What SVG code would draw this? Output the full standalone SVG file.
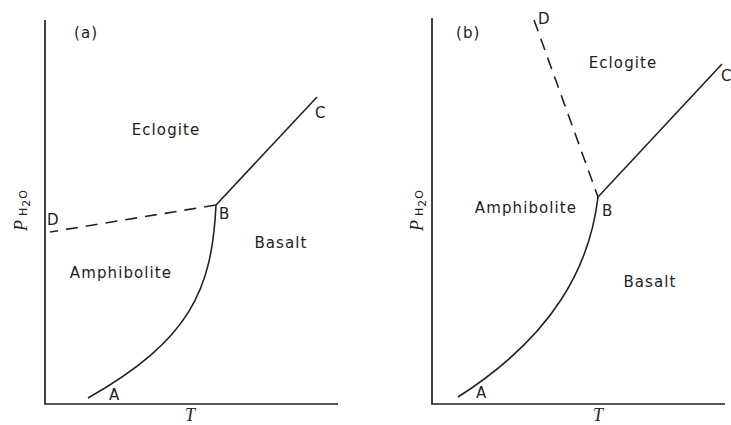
<svg xmlns="http://www.w3.org/2000/svg" width="731" height="425" viewBox="0 0 731 425">
<style>
.ax{stroke:#222;stroke-width:1.7;fill:none}
.ln{stroke:#222;stroke-width:1.6;fill:none}
.ds{stroke:#222;stroke-width:1.6;fill:none;stroke-dasharray:12 8}
.t{font-family:"DejaVu Sans","Liberation Sans",sans-serif;font-size:15px;fill:#222;letter-spacing:1.1px}
.pt{font-family:"DejaVu Sans","Liberation Sans",sans-serif;font-size:15px;fill:#222}
.p{font-family:"Liberation Serif",serif;font-style:italic;font-size:18px;fill:#222}
.s{font-family:"DejaVu Sans","Liberation Sans",sans-serif;font-size:11px;fill:#222;letter-spacing:1px}
</style>
<rect width="731" height="425" fill="#fff"/>
<g id="panel-a">
<g id="axes-a">
<path class="ax" d="M45,20 V404 H338"/>
</g>
<g id="connectors-a">
<path class="ln" d="M317,97 L216,205"/>
<path class="ds" d="M216,205 L50,232"/>
<path class="ln" d="M216,205 C212,290 190,340 88,398"/>
</g>
<g id="labels-a">
<text class="t" x="74" y="38">(a)</text>
<text class="t" x="166" y="135" text-anchor="middle">Eclogite</text>
<text class="t" x="281" y="248" text-anchor="middle">Basalt</text>
<text class="t" x="121" y="278" text-anchor="middle">Amphibolite</text>
<text class="pt" x="315" y="118">C</text>
<text class="pt" x="219" y="219">B</text>
<text class="pt" x="47" y="225">D</text>
<text class="pt" x="109" y="400">A</text>
<text class="p" x="185" y="421">T</text>
<text transform="translate(27,231) rotate(-90)"><tspan class="p">P</tspan><tspan class="s" dx="4">H</tspan><tspan class="s" dy="3">2</tspan><tspan class="s" dy="-3">O</tspan></text>
</g>
</g>
<g id="panel-b">
<g id="axes-b">
<path class="ax" d="M432,18 V404 H725"/>
</g>
<g id="connectors-b">
<path class="ln" d="M722,64 L598,197"/>
<path class="ds" d="M534,20 L598,197"/>
<path class="ln" d="M598,197 C590,265 555,335 458,397"/>
</g>
<g id="labels-b">
<text class="t" x="456" y="38">(b)</text>
<text class="t" x="623" y="68" text-anchor="middle">Eclogite</text>
<text class="t" x="526" y="213" text-anchor="middle">Amphibolite</text>
<text class="t" x="650" y="287" text-anchor="middle">Basalt</text>
<text class="pt" x="538" y="24">D</text>
<text class="pt" x="721" y="81">C</text>
<text class="pt" x="602" y="216">B</text>
<text class="pt" x="476" y="398">A</text>
<text class="p" x="593" y="421">T</text>
<text transform="translate(423,231) rotate(-90)"><tspan class="p">P</tspan><tspan class="s" dx="4">H</tspan><tspan class="s" dy="3">2</tspan><tspan class="s" dy="-3">O</tspan></text>
</g>
</g>
</svg>
